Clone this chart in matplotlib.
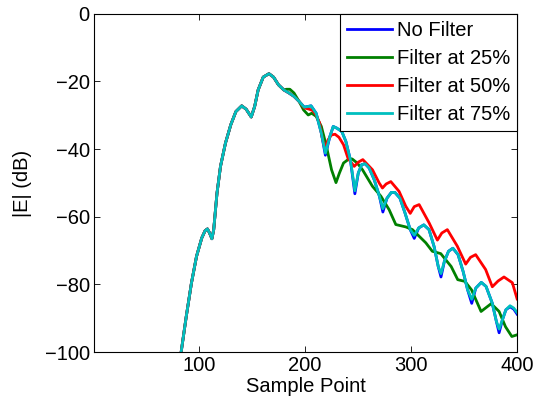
import numpy as np
import matplotlib
matplotlib.use("Agg")
import matplotlib.pyplot as plt

plt.rcParams['font.family'] = ['Liberation Sans', 'DejaVu Sans']

# shared rising part (all four curves coincide here)
x_common = [83.2, 88, 92.9, 97.7, 102.6, 105.8, 108, 110, 112.2, 113.9, 117, 120.3,
            125, 130, 134.8, 140.3, 144.5, 149.3, 152.5, 155.8, 160.6, 166, 170.3,
            175, 180]
y_common = [-100, -89.5, -79.6, -71.7, -66.3, -64.1, -63.6, -64.8, -66.5, -63.8, -53,
            -45.1, -38.2, -32.8, -28.9, -27.2, -28.2, -30.5, -27.4, -22.5, -18.7, -17.7,
            -18.7, -21, -22.5]

# tails after the split
x_nofilt = [184.8, 189.6, 194.4, 199.3, 205.7, 210.5, 215.4, 219.2, 223.4, 226.6, 230,
            234.7, 238.5, 242.8, 247, 250.2, 253.4, 256.6, 260.5, 265.3, 270.2, 273.4,
            277.3, 281.4, 284.7, 289.5, 294.3, 299.2, 303, 307.2, 312, 316.9, 321.7,
            325.6, 328.2, 331.4, 335.3, 339.4, 344.3, 349.1, 353.3, 357.2, 361, 366.2,
            370.7, 376.5, 380.4, 383, 386.2, 389.4, 393.3, 396.8, 400]
y_nofilt = [-23.4, -24.4, -25.9, -27.6, -27.2, -29.4, -35.3, -41.8, -36.3, -33.3, -33.8,
            -34.8, -37.7, -43.2, -53.2, -47.1, -44.6, -44.3, -45.6, -49.1, -54, -58.6,
            -54.5, -52.8, -52.8, -54.5, -58.9, -63.8, -66.4, -63.3, -62.4, -63.8, -68.8,
            -74.7, -77.8, -73.2, -70.2, -69.3, -71.2, -76.2, -81.6, -85.6, -81.1, -79.4,
            -80.6, -85.5, -90.9, -94.3, -90.4, -87.5, -86.6, -87.3, -88.8]

y_75 = [-23.4, -24.4, -25.9, -27.6, -27.2, -29.4, -35.3, -41.2, -36.3, -33.3, -33.8,
        -34.8, -37.7, -43.2, -52.3, -47.1, -44.6, -44.3, -45.6, -49.1, -54, -57.6,
        -54.5, -52.8, -52.8, -54.5, -58.9, -63.8, -65.5, -63.3, -62.4, -63.8, -68.8,
        -74.7, -76.8, -73.2, -70.2, -69.3, -71.2, -76.2, -81.6, -84.4, -81.1, -79.4,
        -80.6, -85.5, -90.9, -93.2, -90.4, -87.5, -86.3, -87, -88.3]

x_25 = [182.5, 185.7, 189.6, 194.4, 198.6, 203, 206.3, 210.5, 215.4, 220.2, 225, 229.2,
        232.4, 236.3, 241, 244.4, 249.2, 254.2, 263.6, 271.5, 279.3, 285.6, 295, 301.3,
        313.9, 320, 328, 337.8, 344, 350.7, 357, 366, 375.5, 383, 389, 395, 400]
y_25 = [-22.3, -22.3, -23.4, -25.9, -28.4, -29.9, -29.4, -30.3, -33.3, -39.2, -46.1,
        -49.9, -47.1, -44.1, -43, -42.9, -44.1, -46.1, -51, -53.9, -57.9, -62.3, -63,
        -63.8, -67.7, -70.2, -70.9, -74.7, -78.6, -79.1, -81.6, -88, -85.7, -88,
        -92.5, -95.4, -94.9]

x_50 = [184.8, 189.6, 194.4, 199.3, 204, 207.3, 210.5, 213.8, 216, 218.6, 221.8, 225,
        228.3, 232, 236.3, 240.5, 246.4, 250.5, 254.5, 263.6, 269.9, 273, 276.5, 280.9,
        288.7, 295, 299.2, 303, 307.6, 317, 324.8, 329, 334.2, 343.6, 351.5, 356,
        360.9, 370.3, 376.6, 382, 387.6, 395.5, 400]
y_50 = [-23.4, -24.4, -25.9, -27.8, -28.2, -28.6, -29.9, -32.3, -36.3, -39.7, -37.2,
        -35.8, -35.6, -36.5, -38.7, -42.7, -45.1, -43.8, -43.1, -46.1, -50, -51.5,
        -50.3, -49.6, -52.5, -56.9, -59, -57, -56.4, -61.8, -66.9, -64.8, -63.8, -68.7,
        -74, -72, -71.2, -75.6, -80.7, -79, -77.8, -79.5, -84.3]

series = [
    ("No Filter", x_nofilt, y_nofilt, (0, 0, 1)),
    ("Filter at 25%", x_25, y_25, (0, 0.5, 0)),
    ("Filter at 50%", x_50, y_50, (1, 0, 0)),
    ("Filter at 75%", x_nofilt, y_75, (0, 0.75, 0.75)),
]

fs = 14.5

fig = plt.figure(figsize=(5.37, 4.07), dpi=100)
ax = fig.add_axes([0.175, 0.135, 0.788, 0.831])

for label, xs, ys, c in series:
    ax.plot(x_common + xs, y_common + ys, color=c, lw=2, label=label,
            solid_joinstyle='round')

ax.set_xlim(1, 400)
ax.set_ylim(-100, 0)
ax.set_xticks([100, 200, 300, 400])
ax.set_yticks([-100, -80, -60, -40, -20, 0])
ax.tick_params(direction='in', top=True, right=True, labelsize=fs, length=4, width=0.6, pad=3)
for s in ax.spines.values():
    s.set_linewidth(0.8)
ax.set_xlabel("Sample Point", fontsize=fs, labelpad=1)
ax.set_ylabel("|E| (dB)", fontsize=fs, labelpad=9)

leg = ax.legend(loc='upper right', fontsize=fs, fancybox=False, edgecolor='black',
                borderaxespad=0, handlelength=2.2, handletextpad=0.25, labelspacing=0.45,
                borderpad=0.35, framealpha=1)
leg.get_frame().set_linewidth(0.8)

fig.savefig("out.png", dpi=100)
